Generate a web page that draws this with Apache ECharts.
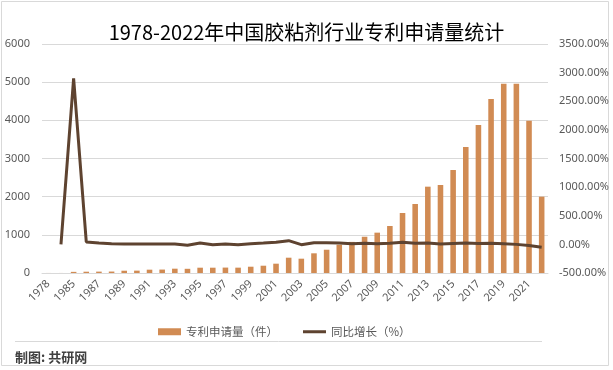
<!DOCTYPE html>
<html>
<head>
<meta charset="utf-8">
<script src="https://cdn.jsdelivr.net/npm/echarts@6/dist/echarts.min.js"></script>
<style>
html,body{margin:0;padding:0;background:#fff;}
#main{width:613px;height:370px;}
</style>
</head>
<body>
<div id="main"></div>
<script>
var titleText = '1978-2022年中国胶粘剂行业专利申请量统计';
var years = ['1978','1984','1985','1986','1987','1988','1989','1990','1991','1992','1993','1994','1995','1996','1997','1998','1999','2000','2001','2002','2003','2004','2005','2006','2007','2008','2009','2010','2011','2012','2013','2014','2015','2016','2017','2018','2019','2020','2021','2022'];
var patents = [1,1,30,34,36,38,60,62,87,90,113,110,139,139,142,140,165,191,244,401,375,516,610,741,815,950,1057,1231,1572,1808,2262,2305,2698,3301,3877,4558,4960,4960,3990,2000];
var growth = [null,0,2900,42,25,12,7,7,7,7,5,-16,24,-5,7,-5,12,24,37,65,-5,30,30,24,12,19,12,19,37,19,24,5,15,22,17,18,9,0,-20,-50];
var seriesNames = ['专利申请量（件）','同比增长（%）'];
var sourceText = '制图: 共研网';

var chart = echarts.init(document.getElementById('main'), null, {renderer:'canvas'});
var cjk = '"Microsoft YaHei","Noto Sans CJK SC",sans-serif';
chart.setOption({
  backgroundColor:'#ffffff',
  animation:false,
  title:{text:titleText,left:'center',top:17,textStyle:{fontFamily:cjk,fontSize:20,fontWeight:'normal',color:'#000000'}},
  grid:{left:42,right:65,top:44,bottom:97},
  legend:{
    left:153,top:321,itemGap:25,itemWidth:23,itemHeight:7,
    textStyle:{fontFamily:cjk,fontSize:11.5,color:'#595959'},
    data:[{name:seriesNames[0],icon:'rect'},
          {name:seriesNames[1],icon:'path://M0,0 L0.01,0 Z M0,2 L23,2 L23,5 L0,5 Z M0,7 L0.01,7 Z'}]
  },
  xAxis:{
    type:'category',data:years,
    axisLine:{lineStyle:{color:'#d9d9d9'}},
    axisTick:{show:false},
    axisLabel:{interval:1,rotate:45,margin:9,fontFamily:'"Noto Sans",sans-serif',fontSize:11,color:'#595959'}
  },
  yAxis:[
    {type:'value',min:0,max:6000,interval:1000,
     axisLine:{show:false},axisTick:{show:false},
     axisLabel:{margin:12,fontFamily:'"Noto Sans",sans-serif',fontSize:11,color:'#595959',
       formatter:function(v){return String(v);}},
     splitLine:{lineStyle:{color:'#d9d9d9'}}},
    {type:'value',min:-500,max:3500,interval:500,
     axisLine:{show:false},axisTick:{show:false},
     axisLabel:{margin:11,fontFamily:'"Noto Sans",sans-serif',fontSize:11,color:'#595959',
       formatter:function(v){return v.toFixed(2)+'%';}},
     splitLine:{show:false}}
  ],
  series:[
    {name:seriesNames[0],type:'bar',data:patents,barWidth:'44%',itemStyle:{color:'#D18B53'}},
    {name:seriesNames[1],type:'line',yAxisIndex:1,data:growth,symbol:'none',connectNulls:false,
     lineStyle:{color:'#5E4330',width:3},itemStyle:{color:'#5E4330'}}
  ],
  graphic:[
    {type:'rect',shape:{x:1.5,y:1.5,width:607,height:364},style:{fill:'none',stroke:'#d9d9d9',lineWidth:1},silent:true},
    {type:'line',shape:{x1:15,y1:341.5,x2:542,y2:341.5},style:{stroke:'#d9d9d9',lineWidth:1},silent:true},
    {type:'text',left:15,top:351,style:{text:sourceText,font:'bold 13px '+cjk,fill:'#404040'}}
  ]
});
</script>
</body>
</html>
